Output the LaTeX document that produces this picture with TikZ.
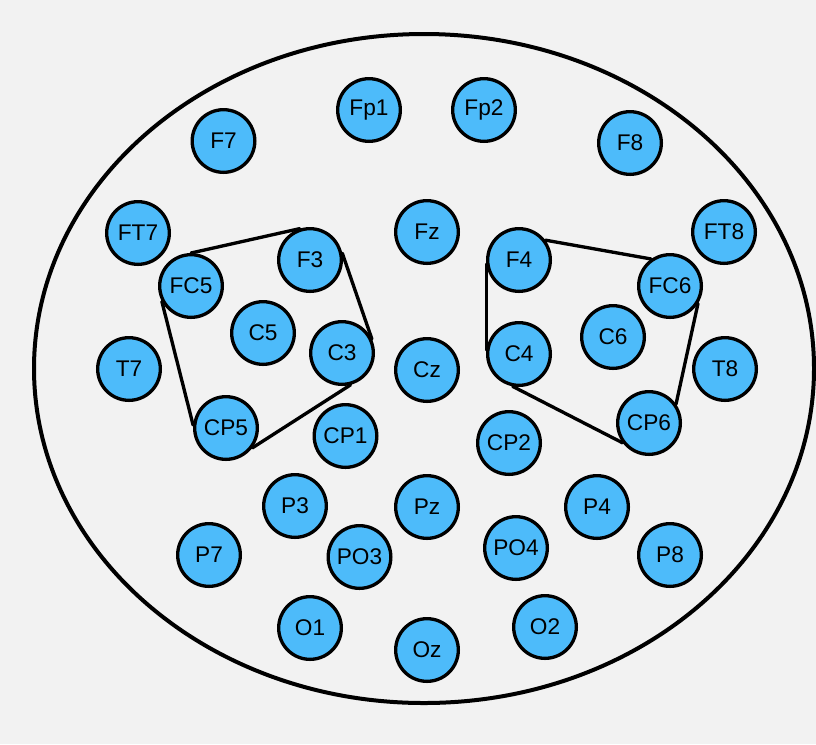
\documentclass[tikz,border=0pt]{standalone}
\usepackage{fontspec}
\setmainfont{Liberation Sans}
\definecolor{bg}{RGB}{242,242,242}
\definecolor{elec}{RGB}{77,187,250}
\begin{document}
\begin{tikzpicture}[x=0.75pt,y=-0.75pt,
  electrode/.style={circle,draw=black,line width=2.5pt,fill=elec,minimum size=47pt,inner sep=0pt,font=\fontsize{17}{20}\selectfont},
  region/.style={line width=2.5pt,line cap=round}]
\fill[bg] (0,0) rectangle (816,744);
\useasboundingbox (0,0) rectangle (816,744);
\draw[line width=3pt] (424,368.5) ellipse [x radius=390, y radius=334.5];
\node[electrode] (Fp1) at (369,110) {Fp1};
\node[electrode] (Fp2) at (484,110) {Fp2};
\node[electrode] (F7) at (223.5,141) {F7};
\node[electrode] (F8) at (630,143) {F8};
\node[electrode] (FT7) at (138,233) {FT7};
\node[electrode] (Fz) at (427,232) {Fz};
\node[electrode] (FT8) at (724,232) {FT8};
\node[electrode] (F3) at (310,260) {F3};
\node[electrode] (F4) at (519,260) {F4};
\node[electrode] (FC5) at (191,286) {FC5};
\node[electrode] (FC6) at (670,286) {FC6};
\node[electrode] (C5) at (263,333) {C5};
\node[electrode] (C6) at (613,337) {C6};
\node[electrode] (C3) at (342,353) {C3};
\node[electrode] (C4) at (519,354) {C4};
\node[electrode] (T7) at (129,369) {T7};
\node[electrode] (Cz) at (427,370) {Cz};
\node[electrode] (T8) at (725,369) {T8};
\node[electrode] (CP5) at (226,428) {CP5};
\node[electrode] (CP6) at (649,423) {CP6};
\node[electrode] (CP1) at (345.5,436) {CP1};
\node[electrode] (CP2) at (509,443) {CP2};
\node[electrode] (P3) at (295,506) {P3};
\node[electrode] (Pz) at (427,507) {Pz};
\node[electrode] (P4) at (597,507) {P4};
\node[electrode] (P7) at (209,555) {P7};
\node[electrode] (PO3) at (359.5,557) {PO3};
\node[electrode] (PO4) at (516,548) {PO4};
\node[electrode] (P8) at (670,555) {P8};
\node[electrode] (O1) at (310,628) {O1};
\node[electrode] (Oz) at (427,650) {Oz};
\node[electrode] (O2) at (545,627) {O2};
% left region
\draw[region] (FC5.90) -- (F3.108);
\draw[region] (F3.12) -- (C3.25);
\draw[region] (C3.-75) -- (CP5.-37);
\draw[region] (CP5.175) -- (FC5.208);
% right region
\draw[region] (F4.37) -- (FC6.125);
\draw[region] (FC6.-32) -- (CP6.35);
\draw[region] (CP6.217) -- (C4.259);
\draw[region] (C4.173) -- (F4.187);
\end{tikzpicture}
\end{document}
